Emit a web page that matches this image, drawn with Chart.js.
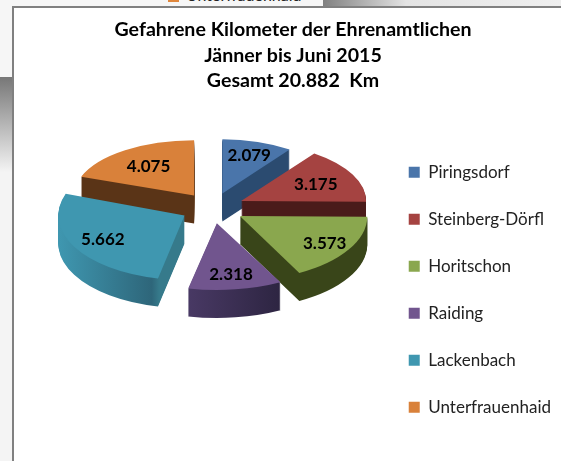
<!DOCTYPE html>
<html>
<head>
<meta charset="utf-8">
<script src="https://cdn.jsdelivr.net/npm/chart.js@4"></script>
<style>
  html, body { margin: 0; padding: 0; width: 561px; height: 461px; overflow: hidden; background: #f4f4f4; }
  #stage { position: relative; width: 561px; height: 461px; overflow: hidden; }
  #stage div { position: absolute; }
  #backWindow { left: 0; top: 0; width: 323px; height: 77px; background: #f6f6f6; }
  #backText { left: 186px; top: -15px; font: 16px Lato, sans-serif; color: #222; }
  #backSwatch { left: 168px; top: 0; width: 11px; height: 2px; background: #e0873c; }
  #shadowLeft { left: 0; top: 77px; width: 12px; height: 95px; background: linear-gradient(#777, #f4f4f4); }
  #shadowTop { left: 323px; top: 0; width: 238px; height: 6px; background: linear-gradient(90deg, #808080, #e4e4e4 35%, #efefef); }
  #panel { left: 12px; top: 6px; width: 549px; height: 455px; background: #fff; border-left: 2px solid #808080; border-top: 2px solid #808080; box-sizing: border-box; }
  canvas { position: absolute; left: 0; top: 0; }
</style>
</head>
<body>
<div id="stage">
  <div id="backWindow"></div>
  <div id="backSwatch"></div>
  <div id="backText">Unterfrauenhaid</div>
  <div id="shadowLeft"></div>
  <div id="shadowTop"></div>
  <div id="panel"></div>
  <canvas id="chart" width="561" height="461"></canvas>
</div>
<script>
const titleLines = ["Gefahrene Kilometer der Ehrenamtlichen", "Jänner bis Juni 2015", "Gesamt 20.882  Km"];
const places = ["Piringsdorf", "Steinberg-Dörfl", "Horitschon", "Raiding", "Lackenbach", "Unterfrauenhaid"];
const kilometers = [2079, 3175, 3573, 2318, 5662, 4075];
const topColors = ["#4a75aa", "#a54341", "#8aa74e", "#71558e", "#3f97b0", "#d9813a"];

// side wall colours, [position across the pie -1..1, colour]
const sideColors = [
  [[-1, "#2b4b70"], [1, "#2b4b70"]],
  [[-1, "#4a1b1a"], [1, "#4a1b1a"]],
  [[-1, "#394519"], [1, "#394519"]],
  [[-0.25, "#4a3a66"], [0.5, "#2c2440"]],
  [[-1, "#3f97b0"], [-0.26, "#2e667a"], [-0.2, "#367a8b"], [1, "#367a8b"]],
  [[-1, "#5a3417"], [1, "#5a3417"]]
];

// back to front, the way the slices overlap
const drawOrder = [5, 0, 1, 4, 2, 3];

// the original has perspective, so back slices come out smaller than front ones
const sliceGrow = [0.92, 1, 1.02, 1.09, 1.01, 0.96];
const sliceTilt = [0.47, 0.47, 0.505, 0.49, 0.51, 0.46];
const labelAt = [0.76, 0.67, 0.78, 0.76, 0.74, 0.66];

// how the flat pie is laid down into the fake 3D view
const view = { x: 212.5, y: 208, radius: 125, explode: 32, explodeTilt: 0.48, depth: 28 };

// work out where one slice lands on screen
function sliceView(arc, i) {
  const mid = (arc.startAngle + arc.endAngle) / 2;
  return {
    mid: mid,
    scale: view.radius / arc.outerRadius * sliceGrow[i],
    tilt: sliceTilt[i],
    x: view.x + Math.cos(mid) * view.explode,
    y: view.y + Math.sin(mid) * view.explode * view.explodeTilt
  };
}

function drawArc(ctx, arc, v, lift, fill) {
  const saved = arc.options;
  arc.options = { ...saved, backgroundColor: fill };
  ctx.save();
  ctx.translate(v.x, v.y + lift);
  ctx.scale(v.scale, v.scale * v.tilt);
  ctx.translate(-arc.x, -arc.y);
  arc.draw(ctx);
  ctx.restore();
  arc.options = saved;
}

const pie3d = {
  id: "pie3d",
  beforeDatasetDraw(chart) {
    const ctx = chart.ctx;
    const arcs = chart.getDatasetMeta(0).data;

    drawOrder.forEach(i => {
      const arc = arcs[i];
      const v = sliceView(arc, i);
      const wall = ctx.createLinearGradient(arc.x - arc.outerRadius, 0, arc.x + arc.outerRadius, 0);
      sideColors[i].forEach(stop => wall.addColorStop((stop[0] + 1) / 2, stop[1]));
      for (let lift = view.depth; lift > 0; lift--) {
        drawArc(ctx, arc, v, lift, wall);
      }
      drawArc(ctx, arc, v, 0, topColors[i]);
    });

    // value labels on top of the slices
    ctx.save();
    ctx.font = "bold 17px Lato, sans-serif";
    ctx.fillStyle = "#000";
    ctx.textAlign = "center";
    ctx.textBaseline = "middle";
    arcs.forEach((arc, i) => {
      const v = sliceView(arc, i);
      const r = arc.outerRadius * v.scale * labelAt[i];
      const text = kilometers[i].toLocaleString("de-DE");
      ctx.fillText(text, v.x + Math.cos(v.mid) * r, v.y + Math.sin(v.mid) * r * v.tilt + 1);
    });
    ctx.restore();
    return false;
  }
};

new Chart(document.getElementById("chart"), {
  type: "pie",
  data: {
    labels: places,
    datasets: [{
      data: kilometers,
      backgroundColor: topColors,
      borderWidth: 0
    }]
  },
  options: {
    responsive: false,
    animation: false,
    layout: { padding: { left: 25, right: 0, top: 17, bottom: 0 } },
    plugins: {
      tooltip: { enabled: false },
      title: {
        display: true,
        text: titleLines,
        color: "#000",
        font: { family: "Lato, sans-serif", size: 19.6, weight: "bold", lineHeight: 1.3 },
        padding: { top: 0, bottom: 25 }
      },
      legend: {
        position: "right",
        fullSize: false,
        labels: {
          boxWidth: 11,
          boxHeight: 11,
          padding: 30,
          color: "#222",
          font: { family: "Lato, sans-serif", size: 17 }
        }
      }
    }
  },
  plugins: [pie3d]
});
</script>
</body>
</html>
